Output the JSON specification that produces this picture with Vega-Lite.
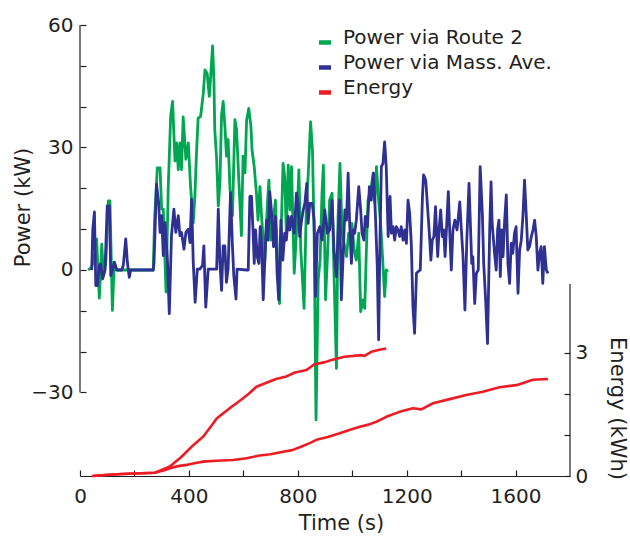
{
 "$schema": "https://vega.github.io/schema/vega-lite/v6.json",
 "width": 490, "height": 451,
 "autosize": {"type": "none"},
 "padding": {"left": 80, "top": 25, "right": 60, "bottom": 60},
 "background": "white",
 "config": {
  "view": {"stroke": null},
  "font": "DejaVu Sans",
  "axis": {"grid": false, "domainColor": "#231f20", "tickColor": "#231f20", "labelColor": "#231f20", "titleColor": "#231f20", "labelFont": "DejaVu Sans", "titleFont": "DejaVu Sans", "labelFontSize": 20, "titleFontSize": 21, "titleFontWeight": "normal", "tickSize": -6, "domainWidth": 1.2, "tickWidth": 1.2, "labelOverlap": false, "labelFlush": false, "format": "d"}
 },
 "datasets": {
  "axisP": [{"t": 0, "P": -30, "P2": 60}],
  "axisE": [{"t": 1800, "E": 0, "E2": 4.67}],
  "route2": [
   {"t":30,"P":0},{"t":43,"P":0.7},{"t":51,"P":2.7},{"t":61,"P":7.6},{"t":71,"P":-6.9},{"t":80,"P":6.3},{"t":86,"P":-1.4},{"t":95,"P":1.9},{"t":104,"P":16.9},{"t":110,"P":16.9},{"t":119,"P":-9.9},{"t":126,"P":1.9},{"t":135,"P":0},{"t":184,"P":0},{"t":269,"P":0},{"t":274,"P":12.4},{"t":284,"P":25},{"t":294,"P":25},{"t":300,"P":14.9},{"t":306,"P":14.9},{"t":316,"P":-5.4},{"t":324,"P":19.8},{"t":333,"P":37.6},{"t":340,"P":41.3},{"t":349,"P":26.7},{"t":355,"P":31.1},{"t":361,"P":24.6},{"t":367,"P":31.1},{"t":373,"P":24.6},{"t":379,"P":37.5},{"t":389,"P":27.1},{"t":398,"P":31.1},{"t":406,"P":20.6},{"t":416,"P":11.6},{"t":422,"P":18.1},{"t":428,"P":28.7},{"t":434,"P":37.2},{"t":443,"P":37.6},{"t":453,"P":43.3},{"t":459,"P":49},{"t":467,"P":48.2},{"t":475,"P":42.5},{"t":480,"P":47.4},{"t":487,"P":54.9},{"t":492,"P":46.6},{"t":495,"P":34.4},{"t":502,"P":27.1},{"t":508,"P":15.7},{"t":514,"P":21.4},{"t":520,"P":38},{"t":526,"P":41.3},{"t":533,"P":34.4},{"t":538,"P":27.9},{"t":544,"P":32},{"t":551,"P":19.8},{"t":560,"P":13.3},{"t":569,"P":36.8},{"t":575,"P":34.4},{"t":585,"P":19.8},{"t":593,"P":8.4},{"t":599,"P":27.9},{"t":606,"P":23.8},{"t":612,"P":36.7},{"t":620,"P":39.6},{"t":628,"P":35.1},{"t":632,"P":29.4},{"t":640,"P":25.3},{"t":648,"P":18.8},{"t":654,"P":12.2},{"t":661,"P":20.4},{"t":667,"P":13.1},{"t":673,"P":7.3},{"t":679,"P":2.4},{"t":689,"P":17.1},{"t":694,"P":22},{"t":701,"P":7.3},{"t":710,"P":12.2},{"t":718,"P":17.1},{"t":725,"P":3.3},{"t":733,"P":-8.2},{"t":740,"P":12.2},{"t":746,"P":26.1},{"t":752,"P":22.9},{"t":758,"P":9},{"t":765,"P":25.7},{"t":772,"P":14.7},{"t":777,"P":25.3},{"t":787,"P":-0.8},{"t":795,"P":9},{"t":804,"P":24.5},{"t":811,"P":4.9},{"t":816,"P":-0.8},{"t":823,"P":-9.4},{"t":832,"P":17.1},{"t":838,"P":22.9},{"t":847,"P":36.3},{"t":854,"P":29.4},{"t":860,"P":9},{"t":867,"P":-36.7},{"t":875,"P":-2.4},{"t":882,"P":2.4},{"t":889,"P":18.8},{"t":894,"P":25.7},{"t":902,"P":-7.3},{"t":909,"P":3.3},{"t":917,"P":17.1},{"t":926,"P":18.8},{"t":933,"P":-0.8},{"t":942,"P":-24.1},{"t":948,"P":13.1},{"t":955,"P":26.1},{"t":963,"P":9},{"t":970,"P":6.5},{"t":979,"P":3.3},{"t":987,"P":9},{"t":995,"P":9},{"t":999,"P":11.4},{"t":1007,"P":4.9},{"t":1015,"P":2.4},{"t":1024,"P":9},{"t":1031,"P":-10.2},{"t":1040,"P":-7.3},{"t":1046,"P":-9.4},{"t":1052,"P":4.9},{"t":1058,"P":17.1},{"t":1068,"P":19.6},{"t":1077,"P":23.7},{"t":1083,"P":16.3},{"t":1089,"P":25.3},{"t":1097,"P":17.1},{"t":1105,"P":10.6},{"t":1112,"P":2.4},{"t":1119,"P":-6.5},{"t":1125,"P":0},{"t":1132,"P":-0.4}
  ],
  "mass": [
   {"t":43,"P":0},{"t":47,"P":10},{"t":53,"P":14.2},{"t":58,"P":-3.8},{"t":64,"P":-3.8},{"t":71,"P":1.1},{"t":76,"P":1.5},{"t":83,"P":-2.2},{"t":92,"P":0},{"t":100,"P":15.7},{"t":108,"P":15.7},{"t":113,"P":-1.4},{"t":120,"P":0.2},{"t":126,"P":1.9},{"t":135,"P":0},{"t":153,"P":0},{"t":159,"P":1.1},{"t":168,"P":7.6},{"t":174,"P":1.9},{"t":181,"P":-1.8},{"t":186,"P":0},{"t":269,"P":0},{"t":272,"P":1.9},{"t":281,"P":21},{"t":289,"P":16.5},{"t":294,"P":9.2},{"t":300,"P":13.3},{"t":306,"P":3.5},{"t":312,"P":11.6},{"t":321,"P":2.7},{"t":328,"P":-10.7},{"t":336,"P":8.4},{"t":345,"P":14.9},{"t":352,"P":9.2},{"t":361,"P":13.3},{"t":367,"P":8.4},{"t":373,"P":9.2},{"t":382,"P":5.1},{"t":389,"P":9.2},{"t":398,"P":10},{"t":404,"P":6.7},{"t":410,"P":17.3},{"t":416,"P":1.9},{"t":423,"P":-7.9},{"t":431,"P":0.2},{"t":440,"P":0.2},{"t":450,"P":1.1},{"t":455,"P":5.9},{"t":462,"P":-9.1},{"t":471,"P":0.2},{"t":502,"P":0.2},{"t":508,"P":14.9},{"t":514,"P":1.9},{"t":520,"P":-5},{"t":526,"P":5.9},{"t":532,"P":5.9},{"t":538,"P":-3},{"t":544,"P":0.2},{"t":553,"P":18.9},{"t":560,"P":5.9},{"t":565,"P":-1.4},{"t":573,"P":-7.1},{"t":577,"P":0.2},{"t":612,"P":0},{"t":618,"P":0},{"t":624,"P":18},{"t":630,"P":18},{"t":636,"P":9},{"t":640,"P":1.6},{"t":645,"P":9.8},{"t":651,"P":3.3},{"t":657,"P":1.6},{"t":662,"P":10.6},{"t":667,"P":6.5},{"t":673,"P":-7.3},{"t":679,"P":2.4},{"t":685,"P":12.2},{"t":691,"P":7.3},{"t":697,"P":19.2},{"t":703,"P":14.7},{"t":711,"P":5.7},{"t":718,"P":13.1},{"t":724,"P":-0.8},{"t":730,"P":-7.3},{"t":738,"P":12.2},{"t":745,"P":2.4},{"t":752,"P":9},{"t":758,"P":7.3},{"t":765,"P":13.1},{"t":771,"P":9.8},{"t":777,"P":13.1},{"t":787,"P":9},{"t":795,"P":18.8},{"t":801,"P":16.3},{"t":807,"P":8.2},{"t":814,"P":12.2},{"t":820,"P":14.7},{"t":826,"P":16.3},{"t":833,"P":21.2},{"t":838,"P":11.4},{"t":844,"P":16.3},{"t":853,"P":16.3},{"t":860,"P":12.2},{"t":865,"P":-6.5},{"t":872,"P":9},{"t":881,"P":10.6},{"t":889,"P":7.3},{"t":899,"P":14.7},{"t":909,"P":9},{"t":917,"P":9.8},{"t":926,"P":17.1},{"t":933,"P":4.9},{"t":942,"P":-1.6},{"t":948,"P":9},{"t":954,"P":17.1},{"t":960,"P":-7.3},{"t":966,"P":2.4},{"t":973,"P":14.7},{"t":979,"P":12.2},{"t":985,"P":23.7},{"t":991,"P":10.6},{"t":997,"P":1.6},{"t":1003,"P":9.8},{"t":1009,"P":9},{"t":1015,"P":12.2},{"t":1024,"P":20.4},{"t":1031,"P":14.7},{"t":1036,"P":9},{"t":1043,"P":7.3},{"t":1048,"P":13.1},{"t":1056,"P":10.6},{"t":1063,"P":20.4},{"t":1070,"P":17.1},{"t":1078,"P":23.7},{"t":1085,"P":13.9},{"t":1092,"P":0.8},{"t":1097,"P":-17.1},{"t":1102,"P":7.3},{"t":1107,"P":25.3},{"t":1113,"P":26.1},{"t":1119,"P":31.4},{"t":1125,"P":25.3},{"t":1132,"P":8.2},{"t":1139,"P":18},{"t":1144,"P":9},{"t":1150,"P":10.6},{"t":1156,"P":7.3},{"t":1162,"P":10.6},{"t":1168,"P":9.8},{"t":1174,"P":8.2},{"t":1180,"P":10.6},{"t":1187,"P":7.3},{"t":1193,"P":9.8},{"t":1199,"P":6.5},{"t":1205,"P":17.1},{"t":1211,"P":13.9},{"t":1217,"P":6.5},{"t":1223,"P":-9},{"t":1229,"P":-15.5},{"t":1236,"P":-0.8},{"t":1242,"P":-0.4},{"t":1250,"P":0},{"t":1258,"P":18},{"t":1262,"P":23.3},{"t":1270,"P":22},{"t":1275,"P":17.1},{"t":1280,"P":12.2},{"t":1284,"P":8.2},{"t":1289,"P":2.4},{"t":1294,"P":7.3},{"t":1300,"P":8.2},{"t":1306,"P":15.5},{"t":1314,"P":3.3},{"t":1319,"P":9.8},{"t":1325,"P":14.7},{"t":1331,"P":8.2},{"t":1336,"P":9.8},{"t":1341,"P":3.3},{"t":1346,"P":9.8},{"t":1353,"P":19.2},{"t":1358,"P":9.8},{"t":1364,"P":0},{"t":1370,"P":9.8},{"t":1377,"P":12.2},{"t":1385,"P":9.8},{"t":1390,"P":13.1},{"t":1395,"P":16.7},{"t":1401,"P":9.8},{"t":1407,"P":3.3},{"t":1414,"P":-9.8},{"t":1421,"P":7.3},{"t":1429,"P":21.2},{"t":1434,"P":11.4},{"t":1439,"P":1.6},{"t":1443,"P":3.3},{"t":1450,"P":-8.2},{"t":1456,"P":-0.8},{"t":1463,"P":0},{"t":1470,"P":25.3},{"t":1478,"P":13.9},{"t":1483,"P":1.6},{"t":1490,"P":-7.3},{"t":1497,"P":-18},{"t":1505,"P":9.8},{"t":1510,"P":21.6},{"t":1514,"P":11.4},{"t":1519,"P":7.3},{"t":1524,"P":3.3},{"t":1529,"P":0},{"t":1534,"P":9.8},{"t":1539,"P":12.2},{"t":1544,"P":-1.6},{"t":1549,"P":9.8},{"t":1554,"P":3.3},{"t":1560,"P":12.2},{"t":1566,"P":18.4},{"t":1572,"P":1.6},{"t":1578,"P":-3.3},{"t":1584,"P":6.5},{"t":1590,"P":4.1},{"t":1596,"P":9},{"t":1602,"P":10.6},{"t":1609,"P":-5.7},{"t":1615,"P":4.9},{"t":1621,"P":7.3},{"t":1627,"P":13.1},{"t":1633,"P":22},{"t":1639,"P":13.9},{"t":1645,"P":4.9},{"t":1651,"P":5.7},{"t":1658,"P":8.2},{"t":1664,"P":9.8},{"t":1670,"P":12.2},{"t":1676,"P":8.2},{"t":1682,"P":0},{"t":1688,"P":4.1},{"t":1694,"P":5.7},{"t":1700,"P":-3.3},{"t":1706,"P":5.7},{"t":1713,"P":0},{"t":1719,"P":-0.8}
  ],
  "energy": [
   {"route":"Route 2","t":43,"E":0},{"route":"Route 2","t":100,"E":0.03},{"route":"Route 2","t":200,"E":0.06},{"route":"Route 2","t":275,"E":0.08},{"route":"Route 2","t":300,"E":0.15},{"route":"Route 2","t":330,"E":0.23},{"route":"Route 2","t":370,"E":0.45},{"route":"Route 2","t":416,"E":0.75},{"route":"Route 2","t":453,"E":0.96},{"route":"Route 2","t":480,"E":1.2},{"route":"Route 2","t":502,"E":1.4},{"route":"Route 2","t":525,"E":1.52},{"route":"Route 2","t":550,"E":1.65},{"route":"Route 2","t":575,"E":1.77},{"route":"Route 2","t":599,"E":1.89},{"route":"Route 2","t":620,"E":2.0},{"route":"Route 2","t":648,"E":2.17},{"route":"Route 2","t":685,"E":2.27},{"route":"Route 2","t":720,"E":2.36},{"route":"Route 2","t":758,"E":2.42},{"route":"Route 2","t":790,"E":2.52},{"route":"Route 2","t":832,"E":2.58},{"route":"Route 2","t":845,"E":2.64},{"route":"Route 2","t":862,"E":2.72},{"route":"Route 2","t":900,"E":2.77},{"route":"Route 2","t":924,"E":2.82},{"route":"Route 2","t":972,"E":2.9},{"route":"Route 2","t":1034,"E":2.94},{"route":"Route 2","t":1045,"E":2.92},{"route":"Route 2","t":1070,"E":3.02},{"route":"Route 2","t":1100,"E":3.07},{"route":"Route 2","t":1125,"E":3.1},
   {"route":"Mass","t":48,"E":0},{"route":"Mass","t":150,"E":0.05},{"route":"Mass","t":275,"E":0.08},{"route":"Mass","t":310,"E":0.14},{"route":"Mass","t":330,"E":0.19},{"route":"Mass","t":360,"E":0.24},{"route":"Mass","t":391,"E":0.27},{"route":"Mass","t":420,"E":0.31},{"route":"Mass","t":452,"E":0.35},{"route":"Mass","t":500,"E":0.37},{"route":"Mass","t":562,"E":0.39},{"route":"Mass","t":612,"E":0.43},{"route":"Mass","t":660,"E":0.5},{"route":"Mass","t":700,"E":0.53},{"route":"Mass","t":746,"E":0.59},{"route":"Mass","t":780,"E":0.63},{"route":"Mass","t":807,"E":0.7},{"route":"Mass","t":844,"E":0.8},{"route":"Mass","t":869,"E":0.88},{"route":"Mass","t":910,"E":0.95},{"route":"Mass","t":954,"E":1.04},{"route":"Mass","t":990,"E":1.12},{"route":"Mass","t":1028,"E":1.2},{"route":"Mass","t":1060,"E":1.25},{"route":"Mass","t":1089,"E":1.32},{"route":"Mass","t":1125,"E":1.44},{"route":"Mass","t":1174,"E":1.56},{"route":"Mass","t":1223,"E":1.65},{"route":"Mass","t":1254,"E":1.62},{"route":"Mass","t":1297,"E":1.77},{"route":"Mass","t":1358,"E":1.87},{"route":"Mass","t":1419,"E":1.97},{"route":"Mass","t":1480,"E":2.05},{"route":"Mass","t":1541,"E":2.16},{"route":"Mass","t":1603,"E":2.21},{"route":"Mass","t":1664,"E":2.34},{"route":"Mass","t":1719,"E":2.36}
  ]
 },
 "encoding": {
  "x": {"field": "t", "type": "quantitative", "scale": {"domain": [0, 1800], "nice": false, "zero": false},
   "axis": {"values": [0, 200, 400, 600, 800, 1000, 1200, 1400, 1600], "labelExpr": "datum.value % 400 === 0 ? datum.label : ''", "title": "Time (s)", "titleX": 261, "titleY": 47, "titleBaseline": "middle", "titleAlign": "center", "labelPadding": 16}}
 },
 "layer": [
  {
   "encoding": {
    "y": {"field": "P", "type": "quantitative", "scale": {"domain": [-50.45, 60], "nice": false, "zero": false},
     "axis": {"orient": "left", "values": [-30, -20, -10, 0, 10, 20, 30, 40, 50, 60], "labelExpr": "datum.value % 30 === 0 ? datum.label : ''", "domain": false, "title": "Power (kW)", "titleX": -57, "titleY": 182, "titleAngle": -90, "titleBaseline": "middle", "titleAlign": "center", "labelPadding": 13, "labelAlign": "right"}}
   },
   "layer": [
    {"data": {"name": "axisP"}, "mark": {"type": "rule", "color": "#231f20", "strokeWidth": 1.2}, "encoding": {"y2": {"field": "P2"}}},
    {"data": {"name": "route2"}, "mark": {"type": "line", "strokeWidth": 2.8, "strokeJoin": "round"},
     "encoding": {"color": {"datum": "Power via Route 2", "type": "nominal",
      "scale": {"domain": ["Power via Route 2", "Power via Mass. Ave.", "Energy"], "range": ["#00a651", "#2e3192", "#ed1c24"]},
      "legend": {"orient": "none", "legendX": 235, "legendY": 3, "title": null, "labelFont": "DejaVu Sans", "labelFontSize": 20, "labelLimit": 0, "labelColor": "#231f20", "symbolType": "M-1,0.75L1,0.75", "symbolSize": 144, "symbolStrokeWidth": 4.5, "labelOffset": 8, "rowPadding": 1}}}},
    {"data": {"name": "mass"}, "mark": {"type": "line", "strokeWidth": 2.8, "strokeJoin": "round"},
     "encoding": {"color": {"datum": "Power via Mass. Ave.", "type": "nominal"}}}
   ]
  },
  {
   "encoding": {
    "y": {"field": "E", "type": "quantitative", "scale": {"domain": [0, 10.97], "nice": false, "zero": false},
     "axis": {"orient": "right", "values": [0, 1, 2, 3], "labelExpr": "datum.value === 0 || datum.value === 3 ? datum.label : ''", "domain": false, "title": "Energy (kWh)", "titleX": 46, "titleY": 383, "titleAngle": 90, "titleBaseline": "middle", "titleAlign": "center", "labelPadding": 11}}
   },
   "layer": [
    {"data": {"name": "axisE"}, "mark": {"type": "rule", "color": "#231f20", "strokeWidth": 1.2}, "encoding": {"y2": {"field": "E2"}}},
    {"data": {"name": "energy"}, "mark": {"type": "line", "strokeWidth": 2.6, "strokeJoin": "round"},
     "encoding": {"color": {"datum": "Energy", "type": "nominal"}, "detail": {"field": "route"}}}
   ]
  }
 ],
 "resolve": {"scale": {"y": "independent"}, "axis": {"y": "independent"}}
}
